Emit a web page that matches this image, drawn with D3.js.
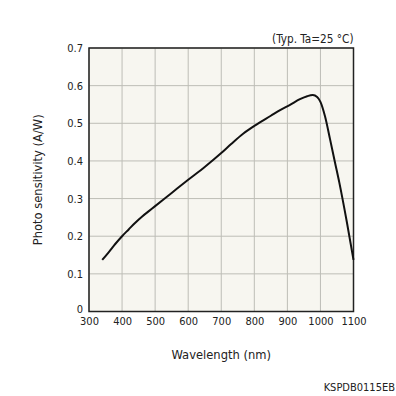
<!DOCTYPE html>
<html><head><meta charset="utf-8">
<script src="https://cdn.jsdelivr.net/npm/d3@7"></script>
<style>body{margin:0;background:#fff;} text{font-family:"DejaVu Sans Condensed","DejaVu Sans",sans-serif;fill:#222;}</style>
</head><body><div id="chart"></div>
<script>
const wavelength = [340,360,380,400,420,440,460,480,500,550,600,650,700,730,767,800,850,878,908,938,960,977,990,1000,1014,1029,1044,1057,1080,1100];
const sensitivity = [0.137,0.158,0.180,0.200,0.218,0.236,0.252,0.266,0.280,0.315,0.350,0.384,0.421,0.445,0.473,0.493,0.520,0.535,0.549,0.564,0.572,0.575,0.570,0.557,0.518,0.458,0.396,0.343,0.237,0.137];
const xTicks = [300,400,500,600,700,800,900,1000,1100];
const yTicks = [0,0.1,0.2,0.3,0.4,0.5,0.6,0.7];

const W=396,H=396, L=89, R=353.5, T=48, B=311.5;
const svg=d3.select("#chart").append("svg").attr("width",W).attr("height",H);
const x=d3.scaleLinear().domain([300,1100]).range([L,R]);
const y=d3.scaleLinear().domain([0,0.7]).range([B,T]);

svg.append("rect").attr("x",L).attr("y",T).attr("width",R-L).attr("height",B-T).attr("fill","#f7f6f0");
const g=svg.append("g");
g.selectAll(".vg").data(xTicks).join("line").attr("x1",d=>x(d)).attr("x2",d=>x(d)).attr("y1",T).attr("y2",B).attr("stroke","#bdbdb6").attr("stroke-width",1);
g.selectAll(".hg").data(yTicks).join("line").attr("y1",d=>y(d)).attr("y2",d=>y(d)).attr("x1",L).attr("x2",R).attr("stroke","#bdbdb6").attr("stroke-width",1);

const xAxis=svg.append("g").attr("transform",`translate(0,${B})`).call(d3.axisBottom(x).tickValues(xTicks).tickSize(0).tickPadding(6).tickFormat(d3.format("d")));
const yAxis=svg.append("g").attr("transform",`translate(${L},0)`).call(d3.axisLeft(y).tickValues(yTicks).tickSize(0).tickPadding(6).tickFormat(d=>d===0?"0":d3.format(".1f")(d)));
[xAxis,yAxis].forEach(a=>{a.select(".domain").remove();a.selectAll("text").attr("font-size",11).attr("fill","#222").attr("font-family","DejaVu Sans Condensed, DejaVu Sans, sans-serif");});
yAxis.selectAll("text").filter(d=>d===0).attr("dy","0.1em");

svg.append("rect").attr("x",L).attr("y",T).attr("width",R-L).attr("height",B-T).attr("fill","none").attr("stroke","#222").attr("stroke-width",1.5);

const line=d3.line().x((d,i)=>x(wavelength[i])).y(d=>y(d)).curve(d3.curveMonotoneX);
svg.append("path").attr("d",line(sensitivity)).attr("fill","none").attr("stroke","#111").attr("stroke-width",2);

svg.append("text").attr("x",R).attr("y",43).attr("text-anchor","end").attr("font-size",11.7).text("(Typ. Ta=25 °C)");
svg.append("text").attr("x",(L+R)/2).attr("y",359).attr("text-anchor","middle").attr("font-size",12.8).text("Wavelength (nm)");
svg.append("text").attr("transform",`translate(42,${(T+B)/2}) rotate(-90)`).attr("text-anchor","middle").attr("font-size",12.8).text("Photo sensitivity (A/W)");
svg.append("text").attr("x",395).attr("y",391).attr("text-anchor","end").attr("font-size",11).text("KSPDB0115EB");
</script></body></html>
